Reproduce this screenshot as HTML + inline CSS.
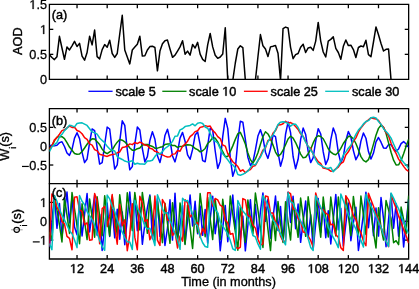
<!DOCTYPE html>
<html><head><meta charset="utf-8"><style>
html,body{margin:0;padding:0;background:#fff;width:419px;height:289px;overflow:hidden}
svg{display:block;font-family:"Liberation Sans",sans-serif;will-change:transform}
</style></head><body><svg width="419" height="289" viewBox="0 0 419 289" font-family="Liberation Sans, sans-serif" font-size="12.7" fill="#000"><line x1="77.03" y1="79.35" x2="77.03" y2="75.45" stroke="#000" stroke-width="1.3"/>
<line x1="77.03" y1="4.35" x2="77.03" y2="8.25" stroke="#000" stroke-width="1.3"/>
<line x1="107.18" y1="79.35" x2="107.18" y2="75.45" stroke="#000" stroke-width="1.3"/>
<line x1="107.18" y1="4.35" x2="107.18" y2="8.25" stroke="#000" stroke-width="1.3"/>
<line x1="137.33" y1="79.35" x2="137.33" y2="75.45" stroke="#000" stroke-width="1.3"/>
<line x1="137.33" y1="4.35" x2="137.33" y2="8.25" stroke="#000" stroke-width="1.3"/>
<line x1="167.48" y1="79.35" x2="167.48" y2="75.45" stroke="#000" stroke-width="1.3"/>
<line x1="167.48" y1="4.35" x2="167.48" y2="8.25" stroke="#000" stroke-width="1.3"/>
<line x1="197.62" y1="79.35" x2="197.62" y2="75.45" stroke="#000" stroke-width="1.3"/>
<line x1="197.62" y1="4.35" x2="197.62" y2="8.25" stroke="#000" stroke-width="1.3"/>
<line x1="227.77" y1="79.35" x2="227.77" y2="75.45" stroke="#000" stroke-width="1.3"/>
<line x1="227.77" y1="4.35" x2="227.77" y2="8.25" stroke="#000" stroke-width="1.3"/>
<line x1="257.92" y1="79.35" x2="257.92" y2="75.45" stroke="#000" stroke-width="1.3"/>
<line x1="257.92" y1="4.35" x2="257.92" y2="8.25" stroke="#000" stroke-width="1.3"/>
<line x1="288.06" y1="79.35" x2="288.06" y2="75.45" stroke="#000" stroke-width="1.3"/>
<line x1="288.06" y1="4.35" x2="288.06" y2="8.25" stroke="#000" stroke-width="1.3"/>
<line x1="318.21" y1="79.35" x2="318.21" y2="75.45" stroke="#000" stroke-width="1.3"/>
<line x1="318.21" y1="4.35" x2="318.21" y2="8.25" stroke="#000" stroke-width="1.3"/>
<line x1="348.36" y1="79.35" x2="348.36" y2="75.45" stroke="#000" stroke-width="1.3"/>
<line x1="348.36" y1="4.35" x2="348.36" y2="8.25" stroke="#000" stroke-width="1.3"/>
<line x1="378.50" y1="79.35" x2="378.50" y2="75.45" stroke="#000" stroke-width="1.3"/>
<line x1="378.50" y1="4.35" x2="378.50" y2="8.25" stroke="#000" stroke-width="1.3"/>
<line x1="49.40" y1="54.35" x2="53.30" y2="54.35" stroke="#000" stroke-width="1.3"/>
<line x1="408.65" y1="54.35" x2="404.75" y2="54.35" stroke="#000" stroke-width="1.3"/>
<line x1="49.40" y1="29.35" x2="53.30" y2="29.35" stroke="#000" stroke-width="1.3"/>
<line x1="408.65" y1="29.35" x2="404.75" y2="29.35" stroke="#000" stroke-width="1.3"/>
<path d="M49.40,4.35H408.65V79.35H49.40Z" fill="none" stroke="#000" stroke-width="1.3"/>
<clipPath id="ca"><rect x="49.4" y="4.35" width="359.25" height="75.0"/></clipPath>
<g clip-path="url(#ca)">
<polyline points="49.40,54.80 51.91,57.50 54.42,59.60 56.94,56.80 59.45,36.30 61.96,48.00 64.47,59.30 66.99,46.90 69.50,49.90 72.01,45.80 74.52,41.30 77.03,46.50 79.55,43.40 82.06,56.10 84.57,60.20 87.08,52.50 89.60,36.30 92.11,44.90 94.62,30.10 97.13,56.60 99.64,58.90 102.16,49.60 104.67,44.60 107.18,47.20 109.69,40.20 112.21,53.50 114.72,57.40 117.23,53.50 119.74,34.00 122.25,15.30 124.77,50.00 127.28,57.00 129.79,63.90 132.30,50.00 134.82,47.10 137.33,44.30 139.84,36.30 142.35,56.10 144.87,55.70 147.38,50.00 149.89,46.60 152.40,46.20 154.91,47.50 157.43,70.80 159.94,51.10 162.45,43.80 164.96,40.70 167.48,40.10 169.99,49.00 172.50,57.30 175.01,55.20 177.52,51.10 180.04,46.90 182.55,40.70 185.06,54.20 187.57,51.10 190.09,55.20 192.60,44.50 195.11,48.00 197.62,42.40 200.13,54.20 202.65,59.40 205.16,61.50 207.67,44.90 210.18,33.50 212.70,46.90 215.21,55.20 217.72,58.30 220.23,57.00 222.74,54.00 225.26,27.80 227.77,80.35 230.28,80.35 232.79,80.35 235.31,63.00 237.82,49.00 240.33,45.80 242.84,47.60 245.35,80.35 247.87,80.35 250.38,80.35 252.89,80.35 255.40,80.35 257.92,57.00 260.43,34.60 262.94,45.80 265.45,49.00 267.96,56.60 270.48,46.90 272.99,46.20 275.50,45.40 278.01,53.30 280.53,80.35 283.04,28.60 285.55,27.10 288.06,28.00 290.57,47.30 293.09,58.70 295.60,54.60 298.11,53.50 300.62,47.30 303.14,44.20 305.65,52.50 308.16,47.90 310.67,47.30 313.18,50.40 315.70,41.10 318.21,22.40 320.72,41.10 323.23,52.00 325.75,57.00 328.26,41.10 330.77,39.40 333.28,36.90 335.80,48.30 338.31,52.50 340.82,59.30 343.33,46.30 345.84,40.00 348.36,45.60 350.87,45.20 353.38,49.60 355.89,57.50 358.41,47.50 360.92,46.00 363.43,46.80 365.94,40.30 368.45,54.70 370.97,56.70 373.48,42.00 375.99,26.90 378.50,34.80 381.02,43.50 383.53,51.00 386.04,49.30 388.55,49.00 391.06,80.35 393.58,80.35 396.09,80.35 398.60,80.35 401.11,80.35 403.63,80.35 406.14,80.35 408.65,80.35" fill="none" stroke="#000" stroke-width="1.5" stroke-linejoin="round"/>
</g>
<text  x="51.80" y="19.00" text-anchor="start" stroke="#000" stroke-width="0.45" >(a)</text>
<line x1="77.03" y1="183.65" x2="77.03" y2="179.75" stroke="#000" stroke-width="1.3"/>
<line x1="77.03" y1="108.65" x2="77.03" y2="112.55" stroke="#000" stroke-width="1.3"/>
<line x1="107.18" y1="183.65" x2="107.18" y2="179.75" stroke="#000" stroke-width="1.3"/>
<line x1="107.18" y1="108.65" x2="107.18" y2="112.55" stroke="#000" stroke-width="1.3"/>
<line x1="137.33" y1="183.65" x2="137.33" y2="179.75" stroke="#000" stroke-width="1.3"/>
<line x1="137.33" y1="108.65" x2="137.33" y2="112.55" stroke="#000" stroke-width="1.3"/>
<line x1="167.48" y1="183.65" x2="167.48" y2="179.75" stroke="#000" stroke-width="1.3"/>
<line x1="167.48" y1="108.65" x2="167.48" y2="112.55" stroke="#000" stroke-width="1.3"/>
<line x1="197.62" y1="183.65" x2="197.62" y2="179.75" stroke="#000" stroke-width="1.3"/>
<line x1="197.62" y1="108.65" x2="197.62" y2="112.55" stroke="#000" stroke-width="1.3"/>
<line x1="227.77" y1="183.65" x2="227.77" y2="179.75" stroke="#000" stroke-width="1.3"/>
<line x1="227.77" y1="108.65" x2="227.77" y2="112.55" stroke="#000" stroke-width="1.3"/>
<line x1="257.92" y1="183.65" x2="257.92" y2="179.75" stroke="#000" stroke-width="1.3"/>
<line x1="257.92" y1="108.65" x2="257.92" y2="112.55" stroke="#000" stroke-width="1.3"/>
<line x1="288.06" y1="183.65" x2="288.06" y2="179.75" stroke="#000" stroke-width="1.3"/>
<line x1="288.06" y1="108.65" x2="288.06" y2="112.55" stroke="#000" stroke-width="1.3"/>
<line x1="318.21" y1="183.65" x2="318.21" y2="179.75" stroke="#000" stroke-width="1.3"/>
<line x1="318.21" y1="108.65" x2="318.21" y2="112.55" stroke="#000" stroke-width="1.3"/>
<line x1="348.36" y1="183.65" x2="348.36" y2="179.75" stroke="#000" stroke-width="1.3"/>
<line x1="348.36" y1="108.65" x2="348.36" y2="112.55" stroke="#000" stroke-width="1.3"/>
<line x1="378.50" y1="183.65" x2="378.50" y2="179.75" stroke="#000" stroke-width="1.3"/>
<line x1="378.50" y1="108.65" x2="378.50" y2="112.55" stroke="#000" stroke-width="1.3"/>
<line x1="49.40" y1="127.37" x2="53.30" y2="127.37" stroke="#000" stroke-width="1.3"/>
<line x1="408.65" y1="127.37" x2="404.75" y2="127.37" stroke="#000" stroke-width="1.3"/>
<line x1="49.40" y1="146.20" x2="53.30" y2="146.20" stroke="#000" stroke-width="1.3"/>
<line x1="408.65" y1="146.20" x2="404.75" y2="146.20" stroke="#000" stroke-width="1.3"/>
<line x1="49.40" y1="165.02" x2="53.30" y2="165.02" stroke="#000" stroke-width="1.3"/>
<line x1="408.65" y1="165.02" x2="404.75" y2="165.02" stroke="#000" stroke-width="1.3"/>
<path d="M49.40,108.65H408.65V183.65H49.40Z" fill="none" stroke="#000" stroke-width="1.3"/>
<clipPath id="cb"><rect x="49.4" y="108.65" width="359.25" height="75.0"/></clipPath>
<g clip-path="url(#cb)">
<polyline points="49.40,145.84 51.91,145.13 54.42,145.88 56.94,145.17 59.45,142.65 61.96,141.76 64.47,146.52 66.99,152.99 69.50,155.33 72.01,149.29 74.52,138.07 77.03,132.79 79.55,138.65 82.06,152.31 84.57,162.63 87.08,159.01 89.60,142.55 92.11,128.92 94.62,130.54 97.13,147.31 99.64,164.04 102.16,162.58 104.67,144.49 107.18,127.13 109.69,128.99 112.21,150.09 114.72,169.09 117.23,164.85 119.74,141.45 122.25,120.84 124.77,125.32 127.28,149.81 129.79,169.81 132.30,166.65 134.82,144.19 137.33,127.06 139.84,130.09 142.35,148.54 144.87,161.89 147.38,156.60 149.89,140.43 152.40,131.65 154.91,139.24 157.43,155.82 159.94,162.53 162.45,151.69 164.96,135.44 167.48,129.21 169.99,139.78 172.50,156.02 175.01,161.87 177.52,152.43 180.04,138.16 182.55,132.41 185.06,141.20 187.57,154.78 190.09,159.25 192.60,149.43 195.11,135.04 197.62,131.95 200.13,144.63 202.65,160.68 205.16,161.80 207.67,145.80 210.18,128.30 212.70,130.18 215.21,150.99 217.72,168.37 220.23,161.43 222.74,136.63 225.26,118.37 227.77,128.58 230.28,157.72 232.79,176.32 235.31,168.57 237.82,141.28 240.33,121.27 242.84,122.20 245.35,139.33 247.87,157.19 250.38,165.35 252.89,162.08 255.40,149.89 257.92,136.07 260.43,129.79 262.94,137.51 265.45,152.17 267.96,158.41 270.48,148.79 272.99,135.06 275.50,136.62 278.01,152.71 280.53,166.21 283.04,157.38 285.55,134.27 288.06,122.04 290.57,132.57 293.09,156.51 295.60,168.73 298.11,159.29 300.62,139.61 303.14,128.08 305.65,134.43 308.16,151.38 310.67,162.54 313.18,157.64 315.70,141.11 318.21,128.67 320.72,133.96 323.23,151.96 325.75,164.52 328.26,158.62 330.77,139.91 333.28,127.96 335.80,134.74 338.31,152.45 340.82,162.87 343.33,156.73 345.84,140.75 348.36,131.57 350.87,136.81 353.38,150.61 355.89,159.72 358.41,154.90 360.92,141.11 363.43,133.06 365.94,138.24 368.45,151.58 370.97,159.00 373.48,153.05 375.99,141.84 378.50,137.50 381.02,142.19 383.53,147.89 386.04,148.32 388.55,144.56 391.06,144.63 393.58,148.87 396.09,151.30 398.60,148.92 401.11,143.65 403.63,141.57 406.14,143.96 408.65,147.31" fill="none" stroke="#0000ff" stroke-width="1.5" stroke-linejoin="round"/>
<polyline points="49.40,149.82 51.91,145.88 54.42,140.96 56.94,137.12 59.45,136.58 61.96,136.68 64.47,138.55 66.99,142.54 69.50,147.08 72.01,150.32 74.52,153.52 77.03,154.29 79.55,154.01 82.06,151.47 84.57,148.04 87.08,144.28 89.60,141.06 92.11,138.86 94.62,138.94 97.13,141.80 99.64,144.56 102.16,149.10 104.67,152.25 107.18,153.70 109.69,151.85 112.21,150.23 114.72,145.57 117.23,142.15 119.74,139.54 122.25,140.19 124.77,141.79 127.28,144.43 129.79,147.95 132.30,150.14 134.82,150.16 137.33,148.70 139.84,148.04 142.35,145.10 144.87,144.52 147.38,144.55 149.89,145.48 152.40,146.48 154.91,148.21 157.43,148.16 159.94,147.34 162.45,146.81 164.96,144.56 167.48,144.06 169.99,143.93 172.50,145.57 175.01,145.54 177.52,147.39 180.04,146.42 182.55,146.39 185.06,145.26 187.57,144.81 190.09,144.92 192.60,146.14 195.11,148.52 197.62,149.62 200.13,151.85 202.65,150.71 205.16,148.44 207.67,143.54 210.18,141.27 212.70,137.37 215.21,138.13 217.72,141.83 220.23,147.33 222.74,151.69 225.26,156.60 227.77,156.53 230.28,151.53 232.79,145.88 235.31,139.36 237.82,133.68 240.33,132.36 242.84,137.73 245.35,144.01 247.87,153.06 250.38,159.68 252.89,163.09 255.40,158.94 257.92,152.81 260.43,144.26 262.94,136.78 265.45,131.74 267.96,133.96 270.48,138.63 272.99,145.11 275.50,152.12 278.01,156.16 280.53,154.47 283.04,150.25 285.55,144.78 288.06,139.02 290.57,136.12 293.09,138.16 295.60,142.56 298.11,148.08 300.62,154.12 303.14,157.85 305.65,157.20 308.16,153.81 310.67,149.22 313.18,142.94 315.70,137.79 318.21,135.74 320.72,136.43 323.23,138.75 325.75,143.50 328.26,148.73 330.77,152.08 333.28,153.95 335.80,154.73 338.31,152.33 340.82,148.38 343.33,143.53 345.84,139.95 348.36,136.32 350.87,136.61 353.38,138.75 355.89,143.49 358.41,149.79 360.92,156.63 363.43,160.38 365.94,161.93 368.45,159.68 370.97,152.86 373.48,144.12 375.99,135.21 378.50,128.37 381.02,125.22 383.53,127.35 386.04,133.33 388.55,142.93 391.06,152.30 393.58,160.20 396.09,164.91 398.60,164.87 401.11,160.36 403.63,153.80 406.14,146.31 408.65,139.38" fill="none" stroke="#008000" stroke-width="1.5" stroke-linejoin="round"/>
<polyline points="49.40,148.92 51.91,145.96 54.42,139.87 56.94,137.64 59.45,134.25 61.96,130.63 64.47,129.78 66.99,127.88 69.50,126.12 72.01,127.39 74.52,127.24 77.03,130.48 79.55,131.52 82.06,133.72 84.57,137.58 87.08,139.46 89.60,143.93 92.11,145.12 94.62,149.61 97.13,150.82 99.64,154.17 102.16,154.91 104.67,155.76 107.18,156.44 109.69,155.21 112.21,154.59 114.72,154.13 117.23,152.81 119.74,151.93 122.25,147.58 124.77,146.97 127.28,146.01 129.79,143.89 132.30,144.63 134.82,142.51 137.33,143.58 139.84,142.12 142.35,143.28 144.87,145.03 147.38,145.57 149.89,148.30 152.40,148.93 154.91,151.34 157.43,152.02 159.94,154.09 162.45,154.91 164.96,156.15 167.48,157.06 169.99,156.76 172.50,154.19 175.01,153.88 177.52,150.47 180.04,151.21 182.55,146.26 185.06,144.12 187.57,141.22 190.09,136.63 192.60,134.61 195.11,131.63 197.62,130.74 200.13,127.36 202.65,126.75 205.16,125.63 207.67,126.39 210.18,126.10 212.70,130.50 215.21,132.90 217.72,136.69 220.23,138.57 222.74,145.00 225.26,146.10 227.77,153.62 230.28,157.94 232.79,161.73 235.31,164.05 237.82,166.53 240.33,171.22 242.84,169.84 245.35,172.74 247.87,170.47 250.38,169.59 252.89,166.35 255.40,165.49 257.92,160.92 260.43,155.86 262.94,150.12 265.45,148.02 267.96,140.56 270.48,139.78 272.99,133.32 275.50,130.59 278.01,125.10 280.53,124.86 283.04,123.80 285.55,121.24 288.06,123.28 290.57,122.59 293.09,123.92 295.60,126.61 298.11,129.38 300.62,133.76 303.14,136.20 305.65,141.50 308.16,146.64 310.67,148.26 313.18,154.31 315.70,157.92 318.21,161.60 320.72,163.58 323.23,168.02 325.75,168.49 328.26,169.37 330.77,171.17 333.28,170.87 335.80,168.90 338.31,167.05 340.82,163.60 343.33,161.93 345.84,154.97 348.36,151.83 350.87,147.07 353.38,141.24 355.89,137.82 358.41,132.19 360.92,127.97 363.43,124.85 365.94,121.80 368.45,119.93 370.97,117.73 373.48,118.53 375.99,118.89 378.50,120.48 381.02,124.55 383.53,127.34 386.04,132.62 388.55,135.83 391.06,143.32 393.58,149.26 396.09,153.44 398.60,159.16 401.11,162.69 403.63,166.39 406.14,169.65 408.65,171.42" fill="none" stroke="#ff0000" stroke-width="1.5" stroke-linejoin="round"/>
<polyline points="49.40,151.58 51.91,146.78 54.42,144.65 56.94,142.56 59.45,136.87 61.96,134.32 64.47,130.63 66.99,128.13 69.50,125.20 72.01,125.82 74.52,126.85 77.03,123.53 79.55,123.06 82.06,122.82 84.57,124.09 87.08,125.45 89.60,128.74 92.11,131.91 94.62,132.76 97.13,134.07 99.64,137.99 102.16,140.42 104.67,142.72 107.18,146.36 109.69,149.07 112.21,150.16 114.72,150.94 117.23,156.56 119.74,158.28 122.25,159.45 124.77,161.04 127.28,161.90 129.79,161.42 132.30,160.70 134.82,164.23 137.33,163.19 139.84,163.97 142.35,163.92 144.87,164.16 147.38,160.94 149.89,161.05 152.40,160.28 154.91,156.57 157.43,153.48 159.94,153.98 162.45,151.50 164.96,148.49 167.48,146.65 169.99,144.64 172.50,141.34 175.01,136.26 177.52,135.90 180.04,129.84 182.55,128.78 185.06,126.57 187.57,125.89 190.09,125.45 192.60,123.91 195.11,125.81 197.62,123.28 200.13,122.60 202.65,123.47 205.16,127.04 207.67,128.20 210.18,133.31 212.70,139.22 215.21,141.08 217.72,142.99 220.23,148.67 222.74,153.67 225.26,156.86 227.77,159.85 230.28,163.43 232.79,164.83 235.31,168.12 237.82,174.56 240.33,175.19 242.84,174.31 245.35,172.83 247.87,171.20 250.38,167.67 252.89,164.10 255.40,164.86 257.92,160.27 260.43,157.21 262.94,151.71 265.45,146.92 267.96,141.98 270.48,137.74 272.99,135.26 275.50,129.77 278.01,124.57 280.53,122.16 283.04,121.72 285.55,122.33 288.06,123.45 290.57,126.18 293.09,124.10 295.60,124.16 298.11,127.47 300.62,132.61 303.14,136.95 305.65,142.08 308.16,146.31 310.67,149.98 313.18,153.66 315.70,159.92 318.21,163.82 320.72,165.31 323.23,166.92 325.75,167.87 328.26,168.44 330.77,167.40 333.28,171.78 335.80,169.02 338.31,165.70 340.82,161.23 343.33,155.07 345.84,151.85 348.36,148.22 350.87,145.22 353.38,139.49 355.89,134.34 358.41,130.12 360.92,127.34 363.43,123.85 365.94,121.51 368.45,120.66 370.97,117.67 373.48,117.27 375.99,117.91 378.50,121.48 381.02,124.35 383.53,128.63 386.04,131.42 388.55,134.30 391.06,138.14 393.58,143.95 396.09,149.46 398.60,153.48 401.11,159.08 403.63,162.46 406.14,164.92 408.65,168.58" fill="none" stroke="#00bfbf" stroke-width="1.5" stroke-linejoin="round"/>
</g>
<text  x="51.70" y="124.70" text-anchor="start" stroke="#000" stroke-width="0.45" >(b)</text>
<rect x="49.4" y="183.65" width="359.25" height="75.35" fill="#fff"/>
<line x1="77.03" y1="259.00" x2="77.03" y2="255.10" stroke="#000" stroke-width="1.3"/>
<line x1="77.03" y1="183.65" x2="77.03" y2="187.55" stroke="#000" stroke-width="1.3"/>
<line x1="107.18" y1="259.00" x2="107.18" y2="255.10" stroke="#000" stroke-width="1.3"/>
<line x1="107.18" y1="183.65" x2="107.18" y2="187.55" stroke="#000" stroke-width="1.3"/>
<line x1="137.33" y1="259.00" x2="137.33" y2="255.10" stroke="#000" stroke-width="1.3"/>
<line x1="137.33" y1="183.65" x2="137.33" y2="187.55" stroke="#000" stroke-width="1.3"/>
<line x1="167.48" y1="259.00" x2="167.48" y2="255.10" stroke="#000" stroke-width="1.3"/>
<line x1="167.48" y1="183.65" x2="167.48" y2="187.55" stroke="#000" stroke-width="1.3"/>
<line x1="197.62" y1="259.00" x2="197.62" y2="255.10" stroke="#000" stroke-width="1.3"/>
<line x1="197.62" y1="183.65" x2="197.62" y2="187.55" stroke="#000" stroke-width="1.3"/>
<line x1="227.77" y1="259.00" x2="227.77" y2="255.10" stroke="#000" stroke-width="1.3"/>
<line x1="227.77" y1="183.65" x2="227.77" y2="187.55" stroke="#000" stroke-width="1.3"/>
<line x1="257.92" y1="259.00" x2="257.92" y2="255.10" stroke="#000" stroke-width="1.3"/>
<line x1="257.92" y1="183.65" x2="257.92" y2="187.55" stroke="#000" stroke-width="1.3"/>
<line x1="288.06" y1="259.00" x2="288.06" y2="255.10" stroke="#000" stroke-width="1.3"/>
<line x1="288.06" y1="183.65" x2="288.06" y2="187.55" stroke="#000" stroke-width="1.3"/>
<line x1="318.21" y1="259.00" x2="318.21" y2="255.10" stroke="#000" stroke-width="1.3"/>
<line x1="318.21" y1="183.65" x2="318.21" y2="187.55" stroke="#000" stroke-width="1.3"/>
<line x1="348.36" y1="259.00" x2="348.36" y2="255.10" stroke="#000" stroke-width="1.3"/>
<line x1="348.36" y1="183.65" x2="348.36" y2="187.55" stroke="#000" stroke-width="1.3"/>
<line x1="378.50" y1="259.00" x2="378.50" y2="255.10" stroke="#000" stroke-width="1.3"/>
<line x1="378.50" y1="183.65" x2="378.50" y2="187.55" stroke="#000" stroke-width="1.3"/>
<line x1="49.40" y1="202.40" x2="53.30" y2="202.40" stroke="#000" stroke-width="1.3"/>
<line x1="408.65" y1="202.40" x2="404.75" y2="202.40" stroke="#000" stroke-width="1.3"/>
<line x1="49.40" y1="221.25" x2="53.30" y2="221.25" stroke="#000" stroke-width="1.3"/>
<line x1="408.65" y1="221.25" x2="404.75" y2="221.25" stroke="#000" stroke-width="1.3"/>
<line x1="49.40" y1="240.10" x2="53.30" y2="240.10" stroke="#000" stroke-width="1.3"/>
<line x1="408.65" y1="240.10" x2="404.75" y2="240.10" stroke="#000" stroke-width="1.3"/>
<path d="M49.40,183.65H408.65V259.00H49.40Z" fill="none" stroke="#000" stroke-width="1.3"/>
<clipPath id="cc"><rect x="49.4" y="183.65" width="359.25" height="75.35"/></clipPath>
<g clip-path="url(#cc)">
<polyline points="49.40,246.83 51.91,221.49 54.42,195.61 56.94,228.30 59.45,203.43 61.96,237.49 64.47,213.17 66.99,192.03 69.50,222.80 72.01,197.88 74.52,227.10 77.03,234.79 79.55,201.42 82.06,235.98 84.57,214.43 87.08,193.50 89.60,231.93 92.11,214.17 94.62,195.37 97.13,235.28 99.64,214.33 102.16,250.51 104.67,226.43 107.18,203.06 109.69,236.42 112.21,209.14 114.72,237.87 117.23,209.29 119.74,239.14 122.25,211.91 124.77,244.70 127.28,217.96 129.79,192.03 132.30,222.32 134.82,196.54 137.33,230.64 139.84,207.25 142.35,244.31 144.87,224.03 147.38,207.70 149.89,194.97 152.40,238.81 154.91,219.89 157.43,198.77 159.94,236.33 162.45,214.32 164.96,245.38 167.48,228.07 169.99,199.76 172.50,240.10 175.01,193.16 177.52,238.24 180.04,225.52 182.55,205.58 185.06,243.75 187.57,221.04 190.09,194.98 192.60,225.99 195.11,201.21 197.62,233.77 200.13,205.99 202.65,235.35 205.16,209.39 207.67,243.05 210.18,218.86 212.70,196.34 215.21,233.72 217.72,213.61 220.23,250.66 222.74,227.87 225.26,205.54 227.77,241.66 230.28,218.68 232.79,195.03 235.31,228.99 237.82,206.03 240.33,239.90 242.84,216.06 245.35,250.84 247.87,225.20 250.38,199.64 252.89,230.60 255.40,204.46 257.92,237.14 260.43,211.35 262.94,192.97 265.45,221.35 267.96,199.18 270.48,238.16 272.99,218.33 275.50,196.08 278.01,230.46 280.53,206.61 283.04,241.37 285.55,216.87 288.06,192.22 290.57,222.50 293.09,196.19 295.60,228.63 298.11,204.05 300.62,242.36 303.14,221.94 305.65,201.08 308.16,237.59 310.67,214.70 313.18,248.98 315.70,223.76 318.21,198.58 320.72,232.39 323.23,206.40 325.75,237.63 328.26,210.75 330.77,244.04 333.28,219.49 335.80,194.41 338.31,229.85 340.82,208.18 343.33,246.01 345.84,223.99 348.36,203.04 350.87,240.67 353.38,222.93 355.89,207.27 358.41,250.47 360.92,233.38 363.43,214.18 365.94,192.21 368.45,227.78 370.97,203.11 373.48,235.75 375.99,208.12 378.50,236.09 381.02,197.55 383.53,218.91 386.04,246.79 388.55,219.66 391.06,193.83 393.58,228.20 396.09,203.72 398.60,236.18 401.11,211.98 403.63,247.01 406.14,223.01 408.65,199.10" fill="none" stroke="#0000ff" stroke-width="1.5" stroke-linejoin="round"/>
<polyline points="49.40,232.12 51.91,240.12 54.42,195.66 56.94,209.97 59.45,224.75 61.96,241.98 64.47,198.16 66.99,215.02 69.50,233.49 72.01,192.60 74.52,208.86 77.03,225.96 79.55,243.69 82.06,203.70 84.57,221.10 87.08,239.59 89.60,198.89 92.11,217.12 94.62,237.27 97.13,196.77 99.64,215.89 102.16,235.75 104.67,195.70 107.18,216.11 109.69,235.80 112.21,196.03 114.72,215.44 117.23,235.09 119.74,194.79 122.25,214.37 124.77,233.38 127.28,192.74 129.79,212.57 132.30,230.63 134.82,192.60 137.33,210.91 139.84,230.01 142.35,192.38 144.87,211.04 147.38,233.30 149.89,196.17 152.40,217.20 154.91,240.52 157.43,201.44 159.94,221.94 162.45,242.63 164.96,203.37 167.48,223.35 169.99,243.29 172.50,202.86 175.01,222.33 177.52,242.94 180.04,202.92 182.55,224.19 185.06,244.40 187.57,205.13 190.09,227.58 192.60,248.39 195.11,210.49 197.62,232.39 200.13,193.59 202.65,214.44 205.16,236.70 207.67,197.39 210.18,218.78 212.70,239.56 215.21,199.27 217.72,220.05 220.23,239.56 222.74,199.34 225.26,219.05 227.77,236.52 230.28,196.02 232.79,214.31 235.31,231.66 237.82,250.17 240.33,207.38 242.84,225.30 245.35,242.29 247.87,199.90 250.38,217.81 252.89,234.02 255.40,193.03 257.92,209.88 260.43,228.13 262.94,247.39 265.45,207.22 267.96,229.40 270.48,250.59 272.99,215.68 275.50,240.60 278.01,201.53 280.53,223.32 283.04,242.40 285.55,201.71 288.06,222.23 290.57,240.05 293.09,200.19 295.60,218.78 298.11,237.28 300.62,198.05 303.14,216.85 305.65,236.33 308.16,196.73 310.67,216.21 313.18,236.66 315.70,197.17 318.21,216.89 320.72,237.15 323.23,197.02 325.75,217.54 328.26,236.89 330.77,197.06 333.28,217.09 335.80,235.87 338.31,196.93 340.82,216.36 343.33,235.76 345.84,196.19 348.36,215.74 350.87,235.60 353.38,196.43 355.89,216.23 358.41,235.02 360.92,196.04 363.43,214.58 365.94,234.48 368.45,195.00 370.97,211.83 373.48,231.82 375.99,247.89 378.50,207.68 381.02,227.62 383.53,240.00 386.04,200.47 388.55,209.80 391.06,218.44 393.58,242.74 396.09,240.67 398.60,244.71 401.11,207.11 403.63,219.76 406.14,233.69 408.65,195.65" fill="none" stroke="#008000" stroke-width="1.5" stroke-linejoin="round"/>
<polyline points="49.40,246.39 51.91,193.98 54.42,197.73 56.94,207.38 59.45,211.15 61.96,221.71 64.47,223.80 66.99,236.30 69.50,238.33 72.01,249.82 74.52,197.12 77.03,196.77 79.55,209.77 82.06,211.31 84.57,224.71 87.08,222.85 89.60,240.17 92.11,239.77 94.62,193.48 97.13,200.57 99.64,243.65 102.16,208.68 104.67,206.44 107.18,226.53 109.69,216.21 112.21,194.48 114.72,226.91 117.23,244.25 119.74,204.47 122.25,225.71 124.77,219.85 127.28,250.75 129.79,234.92 132.30,203.66 134.82,237.40 137.33,249.79 139.84,196.23 142.35,203.04 144.87,221.49 147.38,219.60 149.89,239.83 152.40,233.21 154.91,196.08 157.43,240.11 159.94,245.35 162.45,199.59 164.96,204.06 167.48,220.01 169.99,219.89 172.50,235.50 175.01,231.67 177.52,247.95 180.04,235.90 182.55,241.17 185.06,199.75 187.57,202.86 190.09,217.08 192.60,214.16 195.11,224.37 197.62,222.64 200.13,237.60 202.65,228.52 205.16,233.25 207.67,192.71 210.18,192.71 212.70,206.10 215.21,198.53 217.72,199.82 220.23,205.24 222.74,206.92 225.26,220.01 227.77,222.96 230.28,234.20 232.79,233.44 235.31,246.59 237.82,248.59 240.33,247.27 242.84,198.55 245.35,199.90 247.87,215.52 250.38,216.57 252.89,225.10 255.40,228.14 257.92,239.19 260.43,245.05 262.94,243.74 265.45,195.90 267.96,196.74 270.48,212.97 272.99,212.94 275.50,221.96 278.01,225.52 280.53,236.09 283.04,241.14 285.55,241.29 288.06,192.24 290.57,193.57 293.09,208.97 295.60,209.49 298.11,218.37 300.62,221.35 303.14,232.00 305.65,232.54 308.16,236.23 310.67,240.46 313.18,247.02 315.70,192.97 318.21,202.67 320.72,208.55 323.23,209.85 325.75,213.15 328.26,214.87 330.77,224.76 333.28,224.21 335.80,234.70 338.31,237.28 340.82,247.66 343.33,250.38 345.84,195.86 348.36,199.60 350.87,206.81 353.38,215.69 355.89,219.51 358.41,227.94 360.92,232.53 363.43,241.09 365.94,245.75 368.45,193.24 370.97,199.81 373.48,206.30 375.99,214.39 378.50,219.92 381.02,227.60 383.53,233.31 386.04,241.16 388.55,246.64 391.06,194.81 393.58,201.76 396.09,208.19 398.60,216.16 401.11,222.23 403.63,229.62 406.14,235.69 408.65,243.24" fill="none" stroke="#ff0000" stroke-width="1.5" stroke-linejoin="round"/>
<polyline points="49.40,243.60 51.91,249.65 54.42,196.02 56.94,201.15 59.45,209.20 61.96,215.16 64.47,219.84 66.99,225.22 69.50,230.64 72.01,233.75 74.52,240.07 77.03,247.63 79.55,195.49 82.06,201.21 84.57,204.72 87.08,211.59 89.60,215.78 92.11,219.40 94.62,225.41 97.13,233.06 99.64,240.45 102.16,246.45 104.67,250.31 107.18,195.11 109.69,198.88 112.21,206.30 114.72,211.44 117.23,219.56 119.74,226.78 122.25,232.07 124.77,237.66 127.28,241.86 129.79,242.07 132.30,249.42 134.82,200.19 137.33,207.63 139.84,213.00 142.35,218.68 144.87,226.23 147.38,228.99 149.89,228.29 152.40,236.91 154.91,245.56 157.43,194.72 159.94,201.25 162.45,209.35 164.96,213.37 167.48,212.64 169.99,220.58 172.50,226.66 175.01,233.51 177.52,240.17 180.04,249.34 182.55,198.31 185.06,201.08 187.57,200.49 190.09,206.30 192.60,214.48 195.11,223.60 197.62,225.58 200.13,236.46 202.65,242.77 205.16,246.49 207.67,247.21 210.18,194.60 212.70,201.81 215.21,209.44 217.72,212.65 220.23,222.21 222.74,226.08 225.26,229.83 227.77,234.08 230.28,240.60 232.79,248.77 235.31,250.35 237.82,200.60 240.33,206.23 242.84,210.92 245.35,213.96 247.87,218.18 250.38,225.68 252.89,235.49 255.40,236.97 257.92,243.92 260.43,249.30 262.94,195.63 265.45,199.83 267.96,205.90 270.48,213.77 272.99,220.14 275.50,223.20 278.01,228.75 280.53,233.85 283.04,239.94 285.55,244.81 288.06,192.83 290.57,201.61 293.09,203.35 295.60,209.58 298.11,214.21 300.62,221.26 303.14,226.22 305.65,231.17 308.16,238.49 310.67,247.42 313.18,250.49 315.70,195.78 318.21,201.18 320.72,207.27 323.23,212.65 325.75,219.67 328.26,227.01 330.77,232.82 333.28,237.48 335.80,241.93 338.31,247.62 340.82,193.91 343.33,200.46 345.84,207.39 348.36,214.29 350.87,219.01 353.38,223.83 355.89,228.96 358.41,235.51 360.92,240.38 363.43,246.98 365.94,194.36 368.45,201.10 370.97,206.06 373.48,210.74 375.99,216.71 378.50,221.72 381.02,227.08 383.53,234.80 386.04,241.16 388.55,246.42 391.06,193.00 393.58,198.09 396.09,203.83 398.60,208.73 401.11,215.80 403.63,222.12 406.14,228.09 408.65,233.61" fill="none" stroke="#00bfbf" stroke-width="1.5" stroke-linejoin="round"/>
</g>
<text  x="51.70" y="197.10" text-anchor="start" stroke="#000" stroke-width="0.45" >(c)</text>
<text  x="47.00" y="83.95" text-anchor="end" stroke="#000" stroke-width="0.3" >0</text>
<text  x="47.00" y="58.95" text-anchor="end" stroke="#000" stroke-width="0.3" >0.5</text>
<text id="t1" x="47.00" y="33.95" text-anchor="end" stroke="#000" stroke-width="0.3" > </text>
<text id="t2" x="47.00" y="8.95" text-anchor="end" stroke="#000" stroke-width="0.3" > .5</text>
<text  x="47.00" y="131.97" text-anchor="end" stroke="#000" stroke-width="0.3" >0.5</text>
<text  x="47.00" y="150.80" text-anchor="end" stroke="#000" stroke-width="0.3" >0</text>
<text  x="47.00" y="169.62" text-anchor="end" stroke="#000" stroke-width="0.3" >0.5</text>
<text id="t3" x="47.00" y="207.00" text-anchor="end" stroke="#000" stroke-width="0.3" > </text>
<text  x="47.00" y="225.85" text-anchor="end" stroke="#000" stroke-width="0.3" >0</text>
<text id="t4" x="47.00" y="244.70" text-anchor="end" stroke="#000" stroke-width="0.3" > </text>
<rect x="22.0" y="165.85" width="6.8" height="1.2" fill="#000"/>
<rect x="32.8" y="241.3" width="6.9" height="1.2" fill="#000"/>
<text id="t5" x="77.03" y="273.00" text-anchor="middle" stroke="#000" stroke-width="0.45" > 2</text>
<text  x="107.18" y="273.00" text-anchor="middle" stroke="#000" stroke-width="0.45" >24</text>
<text  x="137.33" y="273.00" text-anchor="middle" stroke="#000" stroke-width="0.45" >36</text>
<text  x="167.48" y="273.00" text-anchor="middle" stroke="#000" stroke-width="0.45" >48</text>
<text  x="197.62" y="273.00" text-anchor="middle" stroke="#000" stroke-width="0.45" >60</text>
<text  x="227.77" y="273.00" text-anchor="middle" stroke="#000" stroke-width="0.45" >72</text>
<text  x="257.92" y="273.00" text-anchor="middle" stroke="#000" stroke-width="0.45" >84</text>
<text  x="288.06" y="273.00" text-anchor="middle" stroke="#000" stroke-width="0.45" >96</text>
<text id="t6" x="318.21" y="273.00" text-anchor="middle" stroke="#000" stroke-width="0.45" > 08</text>
<text id="t7" x="348.36" y="273.00" text-anchor="middle" stroke="#000" stroke-width="0.45" > 20</text>
<text id="t8" x="378.50" y="273.00" text-anchor="middle" stroke="#000" stroke-width="0.45" > 32</text>
<text id="t9" x="408.65" y="273.00" text-anchor="middle" stroke="#000" stroke-width="0.45" > 44</text>
<text  x="228.60" y="285.90" text-anchor="middle" stroke="#000" stroke-width="0.35" >Time (in months)</text>
<line x1="88.40" y1="91.30" x2="112.60" y2="91.30" stroke="#0000ff" stroke-width="1.3"/>
<text  x="115.50" y="95.70" text-anchor="start" stroke="#000" stroke-width="0.45" >scale 5</text>
<line x1="162.30" y1="91.30" x2="186.50" y2="91.30" stroke="#008000" stroke-width="1.3"/>
<text id="t10" x="189.10" y="95.70" text-anchor="start" stroke="#000" stroke-width="0.45" >scale  0</text>
<line x1="243.90" y1="91.30" x2="267.70" y2="91.30" stroke="#ff0000" stroke-width="1.3"/>
<text  x="270.60" y="95.70" text-anchor="start" stroke="#000" stroke-width="0.45" >scale 25</text>
<line x1="325.20" y1="91.30" x2="349.00" y2="91.30" stroke="#00bfbf" stroke-width="1.3"/>
<text  x="352.00" y="95.70" text-anchor="start" stroke="#000" stroke-width="0.45" >scale 30</text>
<text transform="translate(22.4,41.2) rotate(-90)" text-anchor="middle" stroke="#000" stroke-width="0.35">AOD</text>
<text transform="translate(9.2,146.4) rotate(-90)" text-anchor="middle" stroke="#000" stroke-width="0.35">W<tspan font-size="9" dy="6.8">i</tspan><tspan dy="-6.8">(s)</tspan></text>
<text transform="translate(20.5,223.8) rotate(-90)" stroke="#000" stroke-width="0.4">(s)</text>
<text transform="translate(26.6,226.6) rotate(-90)" font-size="9" stroke="#000" stroke-width="0.3">i</text>
<line x1="11.1" y1="229.8" x2="22.7" y2="229.8" stroke="#777" stroke-width="0.7"/>
<ellipse cx="16.7" cy="229.8" rx="2.75" ry="2.5" fill="none" stroke="#000" stroke-width="1.15"/>
<path d="M515,0L515,1237L197,1010L197,1180L530,1409L696,1409L696,0Z" transform="translate(39.94,33.95) scale(0.006201,-0.006201)" fill="#000" stroke="#000" stroke-width="48.4"/>
<path d="M515,0L515,1237L197,1010L197,1180L530,1409L696,1409L696,0Z" transform="translate(29.36,8.95) scale(0.006201,-0.006201)" fill="#000" stroke="#000" stroke-width="48.4"/>
<path d="M515,0L515,1237L197,1010L197,1180L530,1409L696,1409L696,0Z" transform="translate(39.94,207.00) scale(0.006201,-0.006201)" fill="#000" stroke="#000" stroke-width="48.4"/>
<path d="M515,0L515,1237L197,1010L197,1180L530,1409L696,1409L696,0Z" transform="translate(39.94,244.70) scale(0.006201,-0.006201)" fill="#000" stroke="#000" stroke-width="48.4"/>
<path d="M515,0L515,1237L197,1010L197,1180L530,1409L696,1409L696,0Z" transform="translate(69.97,273.00) scale(0.006201,-0.006201)" fill="#000" stroke="#000" stroke-width="72.6"/>
<path d="M515,0L515,1237L197,1010L197,1180L530,1409L696,1409L696,0Z" transform="translate(307.62,273.00) scale(0.006201,-0.006201)" fill="#000" stroke="#000" stroke-width="72.6"/>
<path d="M515,0L515,1237L197,1010L197,1180L530,1409L696,1409L696,0Z" transform="translate(337.77,273.00) scale(0.006201,-0.006201)" fill="#000" stroke="#000" stroke-width="72.6"/>
<path d="M515,0L515,1237L197,1010L197,1180L530,1409L696,1409L696,0Z" transform="translate(367.91,273.00) scale(0.006201,-0.006201)" fill="#000" stroke="#000" stroke-width="72.6"/>
<path d="M515,0L515,1237L197,1010L197,1180L530,1409L696,1409L696,0Z" transform="translate(398.06,273.00) scale(0.006201,-0.006201)" fill="#000" stroke="#000" stroke-width="72.6"/>
<path d="M515,0L515,1237L197,1010L197,1180L530,1409L696,1409L696,0Z" transform="translate(222.24,95.70) scale(0.006201,-0.006201)" fill="#000" stroke="#000" stroke-width="72.6"/></svg></body></html>
